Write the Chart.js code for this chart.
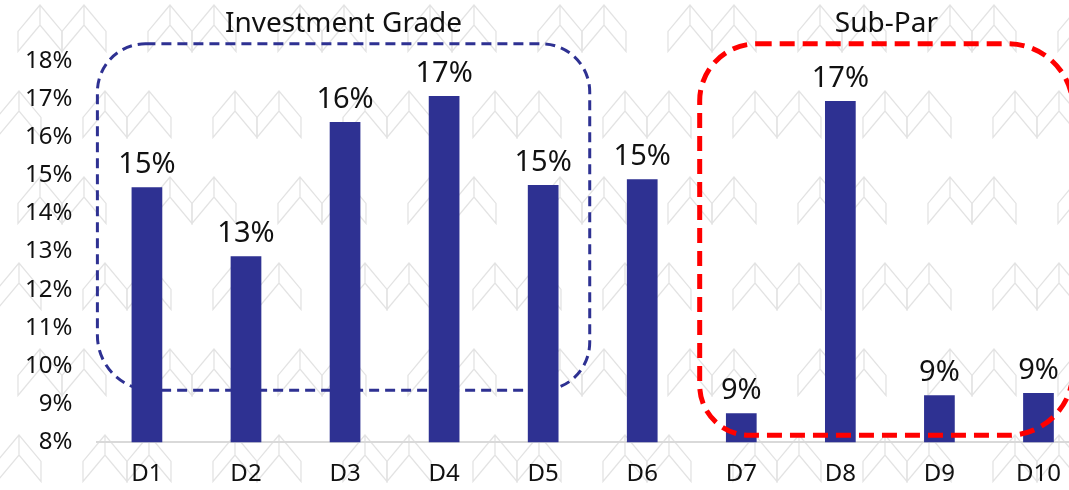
<!DOCTYPE html>
<html>
<head>
<meta charset="utf-8">
<script src="https://cdn.jsdelivr.net/npm/chart.js@4"></script>
<style>
  html, body { margin: 0; padding: 0; background: #fff; overflow: hidden; }
  #wrap { width: 1092px; height: 490px; }
</style>
</head>
<body>
<div id="wrap"><canvas id="decileBar" width="1092" height="490"></canvas></div>
<script>
// ===================== data =====================
var deciles = ["D1", "D2", "D3", "D4", "D5", "D6", "D7", "D8", "D9", "D10"];
var shareValues = [14.69, 12.88, 16.4, 17.08, 14.75, 14.9, 8.76, 16.95, 9.23, 9.29];
var yTicks = [8, 9, 10, 11, 12, 13, 14, 15, 16, 17, 18];

var barColor = "#2e3192";
var fontName = "'Noto Sans', 'Open Sans', sans-serif";

// light grey chevron watermark behind everything
function chevron(ctx, cx, y0, w, t) {
  ctx.beginPath();
  ctx.moveTo(cx, y0);
  ctx.lineTo(cx - w, y0 + w * 1.2);
  ctx.lineTo(cx - w, y0 + w * 1.2 + t);
  ctx.lineTo(cx, y0 + t);
  ctx.lineTo(cx + w, y0 + w * 1.2 + t);
  ctx.lineTo(cx + w, y0 + w * 1.2);
  ctx.closePath();
  ctx.moveTo(cx, y0);
  ctx.lineTo(cx, y0 + t);
  ctx.stroke();
}

var watermark = {
  id: "watermark",
  beforeDraw: function (chart) {
    var ctx = chart.ctx;
    ctx.save();
    ctx.fillStyle = "#fff";
    ctx.fillRect(0, 0, chart.width, chart.height);
    ctx.strokeStyle = "#e3e3e3";
    ctx.lineWidth = 1.3;
    for (var r = 0; r < 7; r++) {
      var y = -40 + r * 86;
      var off = (r % 2) * 65;
      for (var c = -1; c < 10; c++) {
        var x = 40 + off + c * 130;
        chevron(ctx, x, y + 45, 22, 20);
        chevron(ctx, x + 44, y + 45, 22, 20);
      }
    }
    ctx.restore();
  }
};

// dashed rounded boxes + labels
function groupBox(chart, fromIdx, toIdx, topVal, botVal, color, lw, dash, radius, text) {
  var ctx = chart.ctx;
  var xs = chart.scales.x, ys = chart.scales.y;
  var left = xs.getPixelForValue(fromIdx);
  var right = xs.getPixelForValue(toIdx);
  var top = ys.getPixelForValue(topVal);
  var bot = ys.getPixelForValue(botVal);
  ctx.save();
  ctx.strokeStyle = color;
  ctx.lineWidth = lw;
  ctx.setLineDash(dash);
  ctx.beginPath();
  ctx.roundRect(left, top, right - left, bot - top, radius);
  ctx.stroke();
  ctx.setLineDash([]);
  ctx.fillStyle = "#111";
  ctx.font = "28px " + fontName;
  ctx.textAlign = "center";
  ctx.textBaseline = "middle";
  ctx.fillText(text, (left + right) / 2, top - 20);
  ctx.restore();
}

var groups = {
  id: "groups",
  beforeDatasetsDraw: function (chart) {
    groupBox(chart, -0.5, 4.47, 18.45, 9.36, barColor, 3, [10, 6], [48, 48, 48, 55], "Investment Grade");
  },
  afterDatasetsDraw: function (chart) {
    var ctx = chart.ctx;
    var meta = chart.getDatasetMeta(0);
    ctx.save();
    ctx.fillStyle = "#111";
    ctx.font = "29px " + fontName;
    ctx.textAlign = "center";
    ctx.textBaseline = "bottom";
    meta.data.forEach(function (bar, i) {
      ctx.fillText(Math.round(shareValues[i]) + "%", bar.x, bar.y - 8);
    });
    ctx.restore();
    groupBox(chart, 5.58, 9.35, 18.45, 8.18, "#ff0000", 5, [15, 8], [57, 65, 65, 50], "Sub-Par");
  }
};

var ctx = document.getElementById("decileBar").getContext("2d");
var decileBar = new Chart(ctx, {
  type: "bar",
  data: {
    labels: deciles,
    datasets: [
      {
        data: shareValues,
        backgroundColor: barColor,
        borderWidth: 0,
        categoryPercentage: 1,
        barPercentage: 0.31
      }
    ]
  },
  options: {
    responsive: false,
    animation: false,
    events: [],
    layout: { padding: { top: 61, left: 0, right: 4, bottom: -17 } },
    plugins: { legend: { display: false }, tooltip: { enabled: false } },
    scales: {
      x: {
        grid: { display: false, drawTicks: false },
        border: { color: "#d9d9d9", width: 2 },
        ticks: { color: "#111", font: { family: fontName, size: 24 }, padding: 18 }
      },
      y: {
        min: 8,
        max: 18,
        afterBuildTicks: function (axis) {
          axis.ticks = yTicks.map(function (v) { return { value: v }; });
        },
        grid: { display: false, drawTicks: false },
        border: { display: false },
        ticks: {
          color: "#111",
          font: { family: fontName, size: 24 },
          padding: 25,
          callback: function (v) { return v + "%"; }
        }
      }
    }
  },
  plugins: [watermark, groups]
});
</script>
</body>
</html>
